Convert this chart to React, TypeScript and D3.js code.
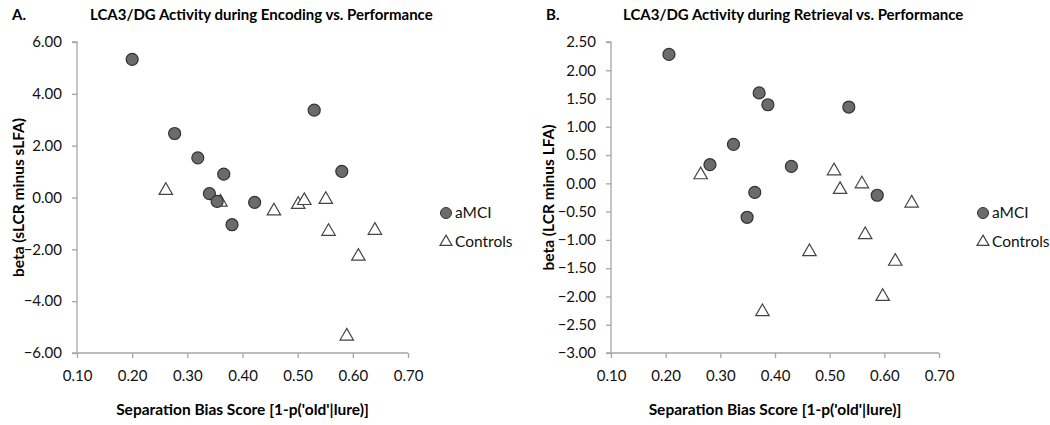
import { useEffect, useRef } from 'react';
import * as d3 from 'd3';

// Panel A: encoding
const encAmciX = [0.2, 0.277, 0.319, 0.366, 0.34, 0.354, 0.381, 0.422, 0.53, 0.58];
const encAmciY = [5.33, 2.47, 1.53, 0.9, 0.15, -0.15, -1.05, -0.19, 3.37, 1.01];
const encCtrlX = [0.261, 0.36, 0.457, 0.501, 0.512, 0.551, 0.556, 0.64, 0.61, 0.589];
const encCtrlY = [0.27, -0.18, -0.52, -0.27, -0.12, -0.08, -1.31, -1.27, -2.27, -5.35];

// Panel B: retrieval
const retAmciX = [0.206, 0.371, 0.387, 0.324, 0.281, 0.43, 0.363, 0.349, 0.535, 0.587];
const retAmciY = [2.28, 1.6, 1.39, 0.69, 0.33, 0.3, -0.16, -0.6, 1.35, -0.21];
const retCtrlX = [0.264, 0.508, 0.519, 0.559, 0.65, 0.565, 0.463, 0.62, 0.597, 0.377];
const retCtrlY = [0.15, 0.22, -0.11, -0.01, -0.35, -0.91, -1.21, -1.38, -2.0, -2.27];

const xTicks = [0.1, 0.2, 0.3, 0.4, 0.5, 0.6, 0.7];
const encYTicks = [-6, -4, -2, 0, 2, 4, 6];
const retYTicks = [-3, -2.5, -2, -1.5, -1, -0.5, 0, 0.5, 1, 1.5, 2, 2.5];

const font = 'Lato, "Open Sans", sans-serif';
const axisColor = '#a6a6a6';

interface PanelSpec {
    letter: string;
    title: string;
    yLabel: string;
    amciX: number[];
    amciY: number[];
    ctrlX: number[];
    ctrlY: number[];
    yTicks: number[];
    left: number; // x of the y axis
    right: number;
    letterX: number;
    titleX: number;
    yLabelX: number;
    legendX: number;
}

const panels: PanelSpec[] = [
    {
        letter: 'A.',
        title: 'LCA3/DG Activity during Encoding vs. Performance',
        yLabel: 'beta (sLCR minus sLFA)',
        amciX: encAmciX,
        amciY: encAmciY,
        ctrlX: encCtrlX,
        ctrlY: encCtrlY,
        yTicks: encYTicks,
        left: 77,
        right: 408,
        letterX: 12,
        titleX: 90,
        yLabelX: 19,
        legendX: 446,
    },
    {
        letter: 'B.',
        title: 'LCA3/DG Activity during Retrieval vs. Performance',
        yLabel: 'beta (LCR minus LFA)',
        amciX: retAmciX,
        amciY: retAmciY,
        ctrlX: retCtrlX,
        ctrlY: retCtrlY,
        yTicks: retYTicks,
        left: 611,
        right: 939,
        letterX: 546,
        titleX: 623,
        yLabelX: 549,
        legendX: 983,
    },
];

const top = 42;
const bottom = 353;

const App = () => {
    const svgRef = useRef<SVGSVGElement>(null);

    useEffect(() => {
        const svg = d3.select(svgRef.current);
        svg.selectAll('*').remove();

        panels.forEach(p => {
            const x = d3.scaleLinear().domain([0.1, 0.7]).range([p.left, p.right]);
            const yExt = d3.extent(p.yTicks) as [number, number];
            const y = d3.scaleLinear().domain(yExt).range([bottom, top]);

            const g = svg.append('g');

            // titles
            g.append('text')
                .attr('x', p.letterX)
                .attr('y', 20)
                .style('font-family', font)
                .style('font-weight', 'bold')
                .style('font-size', '15px')
                .text(p.letter);
            g.append('text')
                .attr('x', p.titleX)
                .attr('y', 20)
                .style('font-family', font)
                .style('font-weight', 'bold')
                .style('font-size', '15px')
                .text(p.title);

            // y axis
            const yAxis = g
                .append('g')
                .attr('transform', `translate(${p.left},0)`)
                .call(
                    d3
                        .axisLeft(y)
                        .tickValues(p.yTicks)
                        .tickSize(5)
                        .tickPadding(10)
                        .tickFormat(d => d3.format('.2f')(d as number))
                );
            // x axis
            const xAxis = g
                .append('g')
                .attr('transform', `translate(0,${bottom})`)
                .call(
                    d3
                        .axisBottom(x)
                        .tickValues(xTicks)
                        .tickSize(5)
                        .tickPadding(12)
                        .tickFormat(d => d3.format('.2f')(d as number))
                );
            [yAxis, xAxis].forEach(a => {
                a.select('.domain').attr('stroke', axisColor).attr('stroke-width', 1.3);
                a.selectAll('.tick line').attr('stroke', axisColor).attr('stroke-width', 1.3);
                a.selectAll('.tick text')
                    .style('font-family', font)
                    .style('font-size', '15px')
                    .attr('fill', '#111');
            });
            yAxis.select('.domain').attr('d', `M-5,${bottom}H0V${top}H-5`);
            xAxis.select('.domain').attr('d', `M${p.left},0H${p.right}`);

            // axis titles
            g.append('text')
                .attr('x', (p.left + p.right) / 2)
                .attr('y', 415)
                .attr('text-anchor', 'middle')
                .style('font-family', font)
                .style('font-weight', 'bold')
                .style('font-size', '15.5px')
                .text("Separation Bias Score [1-p('old'|lure)]");
            g.append('text')
                .attr('transform', `translate(${p.yLabelX},${(top + bottom) / 2}) rotate(-90)`)
                .attr('text-anchor', 'middle')
                .attr('dy', '0.35em')
                .style('font-family', font)
                .style('font-weight', 'bold')
                .style('font-size', '15.5px')
                .text(p.yLabel);

            // controls (open triangles)
            const tri = d3.symbol().type(d3.symbolTriangle).size(78);
            g.selectAll('.ctrl')
                .data(p.ctrlX.map((v, i) => [v, p.ctrlY[i]]))
                .join('path')
                .attr('class', 'ctrl')
                .attr('d', tri)
                .attr('transform', d => `translate(${x(d[0])},${y(d[1])})`)
                .attr('fill', '#fff')
                .attr('stroke', '#444')
                .attr('stroke-width', 1.2);

            // aMCI (filled circles)
            g.selectAll('.amci')
                .data(p.amciX.map((v, i) => [v, p.amciY[i]]))
                .join('circle')
                .attr('class', 'amci')
                .attr('cx', d => x(d[0]))
                .attr('cy', d => y(d[1]))
                .attr('r', 6)
                .attr('fill', '#6b6b6b')
                .attr('stroke', '#333')
                .attr('stroke-width', 1.2);

            // legend
            const lg = g.append('g').attr('transform', `translate(${p.legendX},0)`);
            lg.append('circle')
                .attr('cx', 0)
                .attr('cy', 213)
                .attr('r', 5.5)
                .attr('fill', '#6b6b6b')
                .attr('stroke', '#333');
            lg.append('path')
                .attr('d', d3.symbol().type(d3.symbolTriangle).size(62))
                .attr('transform', 'translate(0,242)')
                .attr('fill', '#fff')
                .attr('stroke', '#444')
                .attr('stroke-width', 1.2);
            ['aMCI', 'Controls'].forEach((t, i) => {
                lg.append('text')
                    .attr('x', 9)
                    .attr('y', 213 + i * 29)
                    .attr('dy', '0.35em')
                    .style('font-family', font)
                    .style('font-size', '15.5px')
                    .attr('fill', '#111')
                    .text(t);
            });
        });
    }, []);

    return (
        <svg
            ref={svgRef}
            width={1050}
            height={425}
            style={{ position: 'absolute', left: 0, top: 0, background: '#fff' }}
        ></svg>
    );
};

export default App;
